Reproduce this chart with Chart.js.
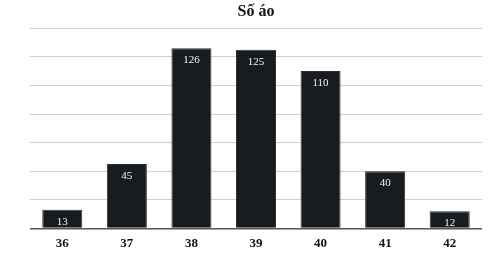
<!DOCTYPE html>
<html>
<head>
<meta charset="utf-8">
<script src="https://cdn.jsdelivr.net/npm/chart.js@4"></script>
<style>
  html, body { margin: 0; padding: 0; background: #fff; }
  #wrap { width: 502px; height: 254px; }
</style>
</head>
<body>
<div id="wrap"><canvas id="chart" width="502" height="254"></canvas></div>
<script>
// sizes of shirts and how many of each
const sizes = ['36', '37', '38', '39', '40', '41', '42'];
const counts = [13, 45, 126, 125, 110, 40, 12];
const chartTitle = 'Số áo';

// white number drawn inside the top of each bar
const barLabels = {
  id: 'barLabels',
  afterDatasetsDraw(chart) {
    const ctx = chart.ctx;
    const meta = chart.getDatasetMeta(0);
    ctx.save();
    ctx.fillStyle = '#f2f2f2';
    ctx.font = '11px "Liberation Serif", serif';
    ctx.textAlign = 'center';
    ctx.textBaseline = 'middle';
    meta.data.forEach((bar, i) => {
      ctx.fillText(String(counts[i]), bar.x, bar.y + 12);
    });
    ctx.restore();
  }
};

new Chart(document.getElementById('chart').getContext('2d'), {
  type: 'bar',
  data: {
    labels: sizes,
    datasets: [{
      label: chartTitle,
      data: counts,
      backgroundColor: '#181c21',
      borderColor: '#2a3038',
      borderWidth: 1,
      barPercentage: 0.62,
      categoryPercentage: 1
    }]
  },
  options: {
    responsive: false,
    animation: false,
    layout: { padding: { left: 30, right: 20, top: 0, bottom: -4 } },
    plugins: {
      legend: { display: false },
      tooltip: { enabled: false },
      title: {
        display: true,
        text: chartTitle,
        color: '#111',
        font: { family: '"Liberation Serif", serif', size: 16, weight: 'bold' },
        padding: { top: 2, bottom: 7 }
      }
    },
    scales: {
      x: {
        grid: { display: false, drawTicks: false },
        border: { display: false },
        ticks: {
          color: '#111',
          padding: 7,
          font: { family: '"Liberation Serif", serif', size: 13, weight: 'bold' }
        }
      },
      y: {
        min: 0,
        max: 140,
        ticks: { display: false, stepSize: 20 },
        border: { display: false },
        grid: {
          drawTicks: false,
          color: ctx => ctx.tick && ctx.tick.value === 0 ? '#555' : '#d0d0d0',
          lineWidth: ctx => ctx.tick && ctx.tick.value === 0 ? 1.5 : 1
        }
      }
    }
  },
  plugins: [barLabels]
});
</script>
</body>
</html>
